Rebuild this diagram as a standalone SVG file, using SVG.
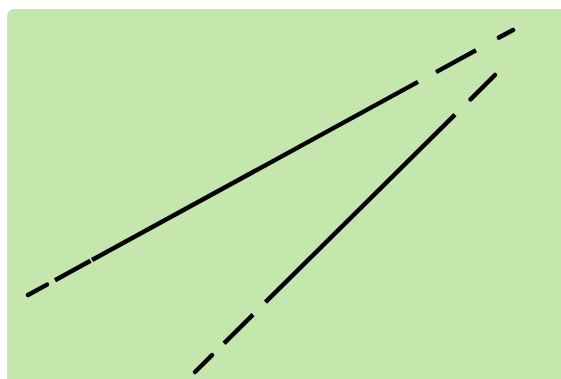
<svg xmlns="http://www.w3.org/2000/svg" width="561" height="379" viewBox="0 0 561 379">
<style>
.bg{fill:#c5e7ad}
.e{stroke:#000;stroke-width:4.5;fill:none;stroke-linecap:butt}
.r{stroke-linecap:round}
</style>
<rect class="bg" x="7" y="9" width="570" height="390" rx="7"/>
<g id="connectors">
<g id="line1">
<line class="e r" x1="28" y1="295" x2="47" y2="284.6"/>
<line class="e" x1="55" y1="280.2" x2="90.5" y2="260.8"/>
<line class="e" x1="92" y1="260" x2="418" y2="81.9"/>
<line class="e" x1="436" y1="72.1" x2="476" y2="50.2"/>
<line class="e r" x1="499" y1="37.6" x2="513" y2="30"/>
</g>
<g id="line2">
<line class="e r" x1="195" y1="372" x2="212" y2="355.2"/>
<line class="e" x1="224" y1="343.3" x2="253" y2="314.6"/>
<line class="e" x1="265.5" y1="302.2" x2="455" y2="114.6"/>
<line class="e r" x1="470.5" y1="99.3" x2="495" y2="75"/>
</g>
</g>
</svg>
